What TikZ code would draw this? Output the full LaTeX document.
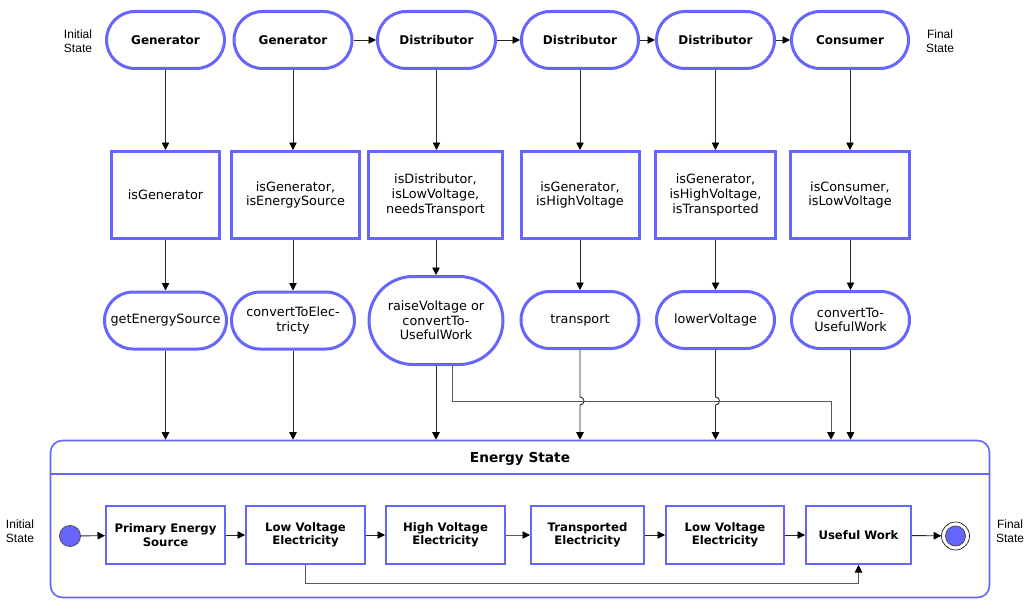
\documentclass[tikz,border=0pt]{standalone}
\usepackage{fontspec}
\setmainfont{DejaVu Sans}
\newfontfamily\lblfont{Liberation Sans}
\usetikzlibrary{arrows.meta,shapes.misc}
\definecolor{bl}{RGB}{102,102,255}
\begin{document}
\begin{tikzpicture}[x=1pt,y=-1pt,
  stad/.style={rounded rectangle, draw=bl, line width=3pt, fill=white, align=center, inner sep=0pt, minimum height=57pt},
  toplbl/.style={stad, font=\fontsize{12}{14}\selectfont\bfseries},
  actlbl/.style={stad, font=\fontsize{12.8}{14.7}\selectfont},
  cond/.style={rectangle, draw=bl, line width=3pt, fill=white, align=center, inner sep=0pt, minimum height=87pt, font=\fontsize{12.8}{14.7}\selectfont},
  sbox/.style={rectangle, draw=bl, line width=2pt, fill=white, align=center, inner sep=0pt, minimum height=58pt, font=\fontsize{11.7}{13.6}\selectfont\bfseries},
  side/.style={align=center, font=\lblfont\fontsize{12}{14}\selectfont},
  conn/.style={draw=black!85, line width=0.9pt, -{Triangle[length=7.5pt,width=7.5pt,color=black]}},
  route/.style={conn, draw=black!65},
]
\useasboundingbox (0,0) rectangle (1031,602);

% top row
\node[toplbl, minimum width=118pt] (t1) at (165.5,40) {Generator};
\node[toplbl, minimum width=118pt] (t2) at (293,40) {Generator};
\node[toplbl, minimum width=118pt] (t3) at (436.5,40) {Distributor};
\node[toplbl, minimum width=117pt] (t4) at (580,40) {Distributor};
\node[toplbl, minimum width=118pt] (t5) at (715.5,40) {Distributor};
\node[toplbl, minimum width=117pt] (t6) at (850,40) {Consumer};
\node[side] (il) at (78,41) {Initial\\State};
\node[side] (fl) at (940,41) {Final\\State};

% condition row
\node[cond, minimum width=108pt] (c1) at (165.5,195) {isGenerator};
\node[cond, minimum width=128pt] (c2) at (295.5,195) {isGenerator,\\isEnergySource};
\node[cond, minimum width=134pt] (c3) at (435.5,195) {isDistributor,\\isLowVoltage,\\needsTransport};
\node[cond, minimum width=118pt] (c4) at (580,195) {isGenerator,\\isHighVoltage};
\node[cond, minimum width=120pt] (c5) at (715.5,195) {isGenerator,\\isHighVoltage,\\isTransported};
\node[cond, minimum width=119pt] (c6) at (850,195) {isConsumer,\\isLowVoltage};

% action row
\node[actlbl, minimum width=122pt] (a1) at (165.5,320.5) {getEnergySource};
\node[actlbl, minimum width=123pt] (a2) at (293,320.5) {convertToElec-\\tricty};
\node[actlbl, minimum width=134pt, minimum height=88pt] (a3) at (436,320.5) {raiseVoltage or\\convertTo-\\UsefulWork};
\node[actlbl, minimum width=118pt] (a4) at (580,320) {transport};
\node[actlbl, minimum width=118pt] (a5) at (715.5,320) {lowerVoltage};
\node[actlbl, minimum width=118pt] (a6) at (850.5,320) {convertTo-\\UsefulWork};

% container
\node[draw=bl, line width=1.6pt, rounded corners=12pt, minimum width=939pt, minimum height=157pt, inner sep=0pt] (es) at (520,519) {};
\node[font=\fontsize{13.7}{15}\selectfont\bfseries] (est) at (520,459) {Energy State};
\draw[draw=bl, line width=1.6pt] (es.west |- 0,474) -- (es.east |- 0,474);

% inner state machine
\node[circle, draw=black!70, line width=0.8pt, fill=bl, minimum size=21pt, inner sep=0pt] (s0) at (70,536) {};
\node[sbox, minimum width=119pt] (s1) at (165.5,535) {Primary Energy\\Source};
\node[sbox, minimum width=119pt] (s2) at (305.5,535) {Low Voltage\\Electricity};
\node[sbox, minimum width=119pt] (s3) at (445.5,535) {High Voltage\\Electricity};
\node[sbox, minimum width=113pt] (s4) at (587.5,535) {Transported\\Electricity};
\node[sbox, minimum width=118pt] (s5) at (725,535) {Low Voltage\\Electricity};
\node[sbox, minimum width=105pt] (s6) at (858.5,535) {Useful Work};
\node[circle, draw=black, line width=0.6pt, fill=white, minimum size=28pt, inner sep=0pt] (sf) at (955.5,536) {};
\node[circle, draw=black!70, line width=0.8pt, fill=bl, minimum size=20pt, inner sep=0pt] (sfi) at (sf.center) {};
\node[side] (il2) at (20,531) {Initial\\State};
\node[side] (fl2) at (1010,531) {Final\\State};

% top row connectors
\draw[conn] (t2.east) -- (t3.west);
\draw[conn] (t3.east) -- (t4.west);
\draw[conn] (t4.east) -- (t5.west);
\draw[conn] (t5.east) -- (t6.west);

\foreach \i in {1,...,6} {
  \draw[conn] (t\i.south) -- (t\i.south |- c\i.north);
}
\draw[conn] (c1.south) -- (a1.north);
\draw[conn] (c2.south -| a2.north) -- (a2.north);
\draw[conn] (c3.south -| a3.north) -- (a3.north);
\draw[conn] (c4.south -| a4.north) -- (a4.north);
\draw[conn] (c5.south -| a5.north) -- (a5.north);
\draw[conn] (c6.south -| a6.north) -- (a6.north);

% action row to container
\draw[conn] (a1.south) -- (a1.south |- es.north);
\draw[conn] (a2.south) -- (a2.south |- es.north);
\draw[conn] (a3.south) -- (a3.south |- es.north);
\draw[conn] (a4.south) -- (a4.south |- 0,397) arc[start angle=90,end angle=-90,radius=4pt] -- (a4.south |- es.north);
\draw[conn] (a5.south) -- (a5.south |- 0,397) arc[start angle=90,end angle=-90,radius=4pt] -- (a5.south |- es.north);
\draw[conn] (a6.south) -- (a6.south |- es.north);
\coordinate (rt) at (831,401);
\draw[route] (a3.south) ++(16,0) |- (rt) -- (rt |- es.north);

% inner connectors
\draw[conn] (s0) -- (s1);
\draw[conn] (s1) -- (s2);
\draw[conn] (s2) -- (s3);
\draw[route] (s3) -- (s4);
\draw[conn] (s4) -- (s5);
\draw[conn] (s5) -- (s6);
\draw[conn] (s6) -- (sf);
\coordinate (bp) at (305.5,583);
\draw[route] (s2.south) -- (bp) -| (s6.south);
\end{tikzpicture}
\end{document}
